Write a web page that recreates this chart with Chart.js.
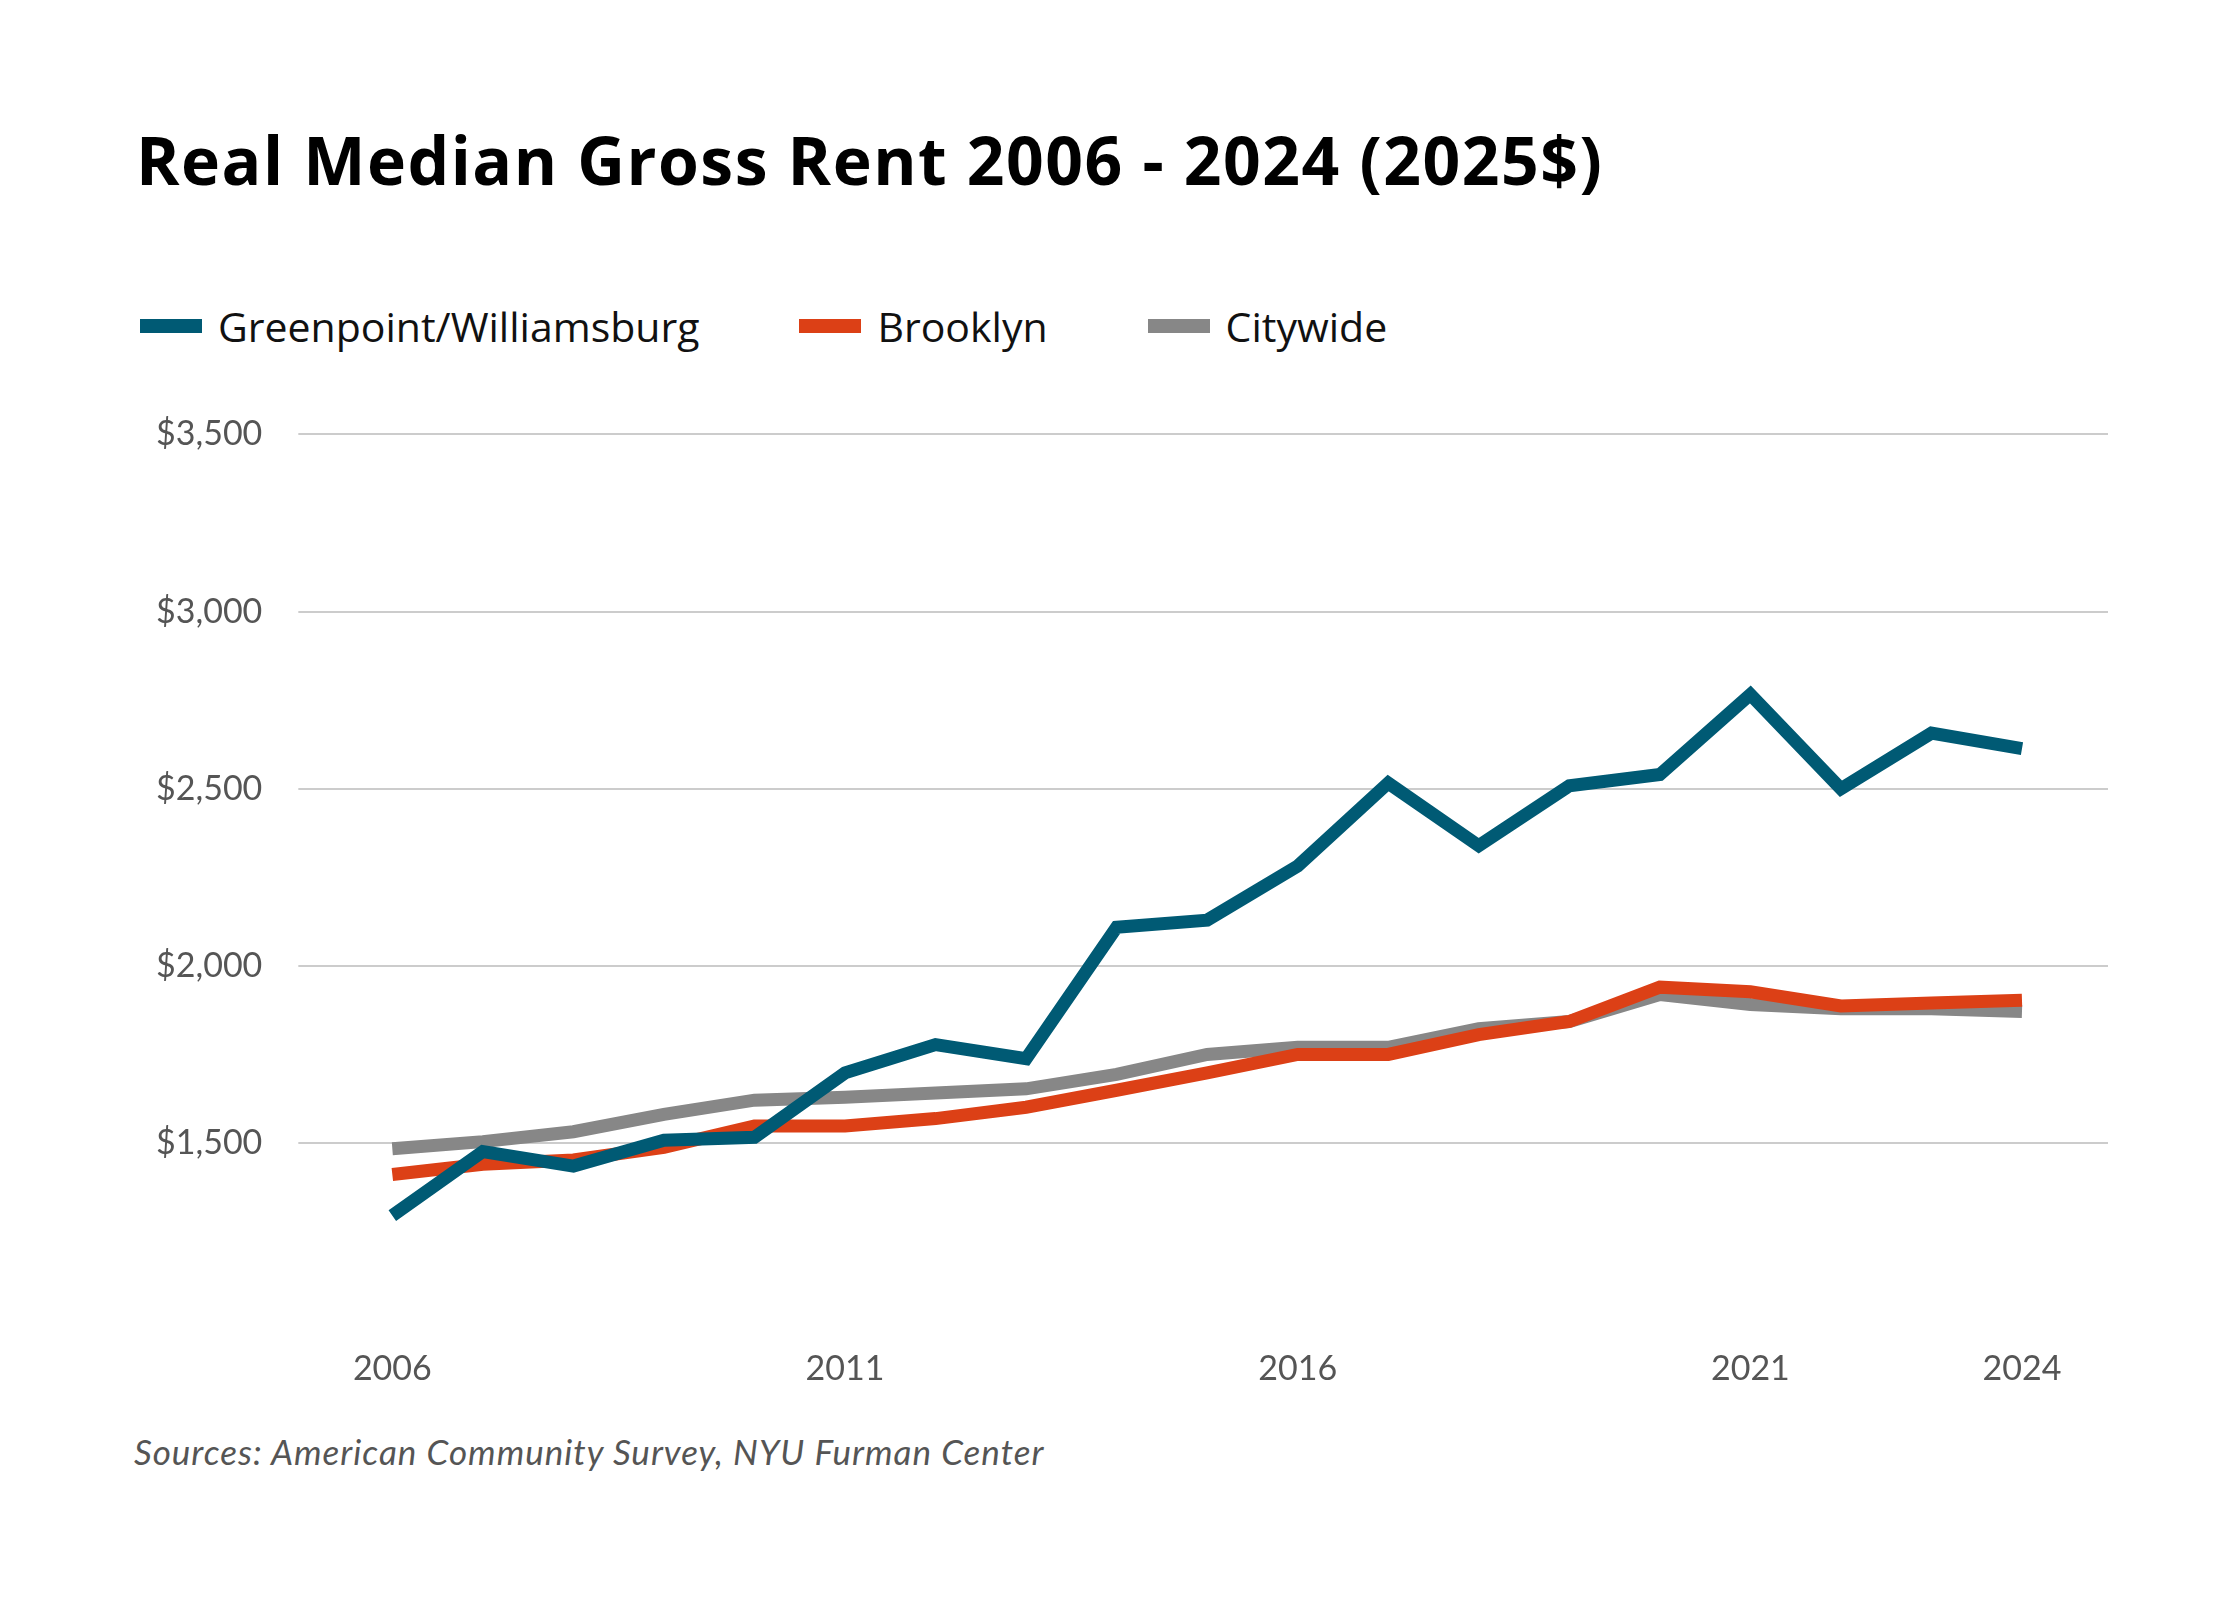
<!DOCTYPE html>
<html>
<head>
<meta charset="utf-8">
<script src="https://cdn.jsdelivr.net/npm/chart.js@4"></script>
<style>
  body { margin: 0; width: 2240px; height: 1600px; background: #fff; font-family: Lato, "Open Sans", sans-serif; position: relative; }
  h1 { position: absolute; left: 136px; top: 114px; margin: 0; font: 700 66px "Open Sans", sans-serif; color: #000; letter-spacing: 1.5px; }
  .legend { position: absolute; left: 140px; top: 298px; display: flex; font: 41px "Open Sans", sans-serif; color: #111; }
  .legend span { display: flex; align-items: center; margin-right: 100px; }
  .legend i { display: inline-block; width: 62px; height: 14px; margin-right: 16px; }
  .wrap { position: absolute; left: 120px; top: 378px; width: 1988px; height: 1031px; }
  .src { position: absolute; left: 134px; top: 1430px; font: italic 35px Lato, sans-serif; color: #555; letter-spacing: 1px; }
</style>
</head>
<body>
<h1>Real Median Gross Rent 2006 - 2024 (2025$)</h1>
<div class="legend">
  <span><i style="background:#005a74"></i>Greenpoint/Williamsburg</span>
  <span><i style="background:#dc4016"></i>Brooklyn</span>
  <span><i style="background:#878787"></i>Citywide</span>
</div>
<div class="wrap"><canvas id="chart"></canvas></div>
<div class="src">Sources: American Community Survey, NYU Furman Center</div>
<script>
const years = [2006, 2007, 2008, 2009, 2010, 2011, 2012, 2013, 2014, 2015, 2016, 2017, 2018, 2019, 2020, 2021, 2022, 2023, 2024];
const greenpoint = [1295, 1476, 1435, 1508, 1516, 1698, 1778, 1738, 2109, 2129, 2282, 2516, 2339, 2508, 2540, 2766, 2500, 2657, 2613];
const brooklyn = [1411, 1440, 1452, 1488, 1548, 1548, 1569, 1601, 1649, 1698, 1750, 1750, 1806, 1843, 1940, 1927, 1887, 1895, 1903];
const citywide = [1484, 1504, 1532, 1581, 1621, 1629, 1641, 1653, 1694, 1750, 1770, 1770, 1823, 1843, 1919, 1891, 1879, 1879, 1871];
const xTicks = [2006, 2011, 2016, 2021, 2024];
const yTicks = [1500, 2000, 2500, 3000, 3500];

function series(label, values, color) {
    return {
        label: label,
        data: values.map((v, i) => ({ x: years[i], y: v })),
        borderColor: color,
        borderWidth: 13,
        pointRadius: 0,
        tension: 0,
        fill: false
    };
}

new Chart(document.getElementById('chart'), {
    type: 'line',
    data: {
        datasets: [
            series('Greenpoint/Williamsburg', greenpoint, '#005a74'),
            series('Brooklyn', brooklyn, '#dc4016'),
            series('Citywide', citywide, '#878787')
        ]
    },
    options: {
        responsive: true,
        maintainAspectRatio: false,
        animation: false,
        plugins: { legend: { display: false }, tooltip: { enabled: false } },
        scales: {
            x: {
                type: 'linear',
                min: 2005.05,
                max: 2024.95,
                afterBuildTicks: axis => { axis.ticks = xTicks.map(v => ({ value: v })); },
                grid: { display: false },
                border: { display: false },
                ticks: { color: '#555', font: { family: 'Lato', size: 34 }, padding: 20, maxRotation: 0, callback: v => String(v) }
            },
            y: {
                min: 1000,
                max: 3500,
                afterBuildTicks: axis => { axis.ticks = yTicks.map(v => ({ value: v })); },
                grid: { color: '#cccccc', lineWidth: 2 },
                border: { display: false },
                ticks: { color: '#555', font: { family: 'Lato', size: 34 }, padding: 36,
                         callback: v => '$' + v.toLocaleString('en-US') }
            }
        }
    }
});
</script>
</body>
</html>
